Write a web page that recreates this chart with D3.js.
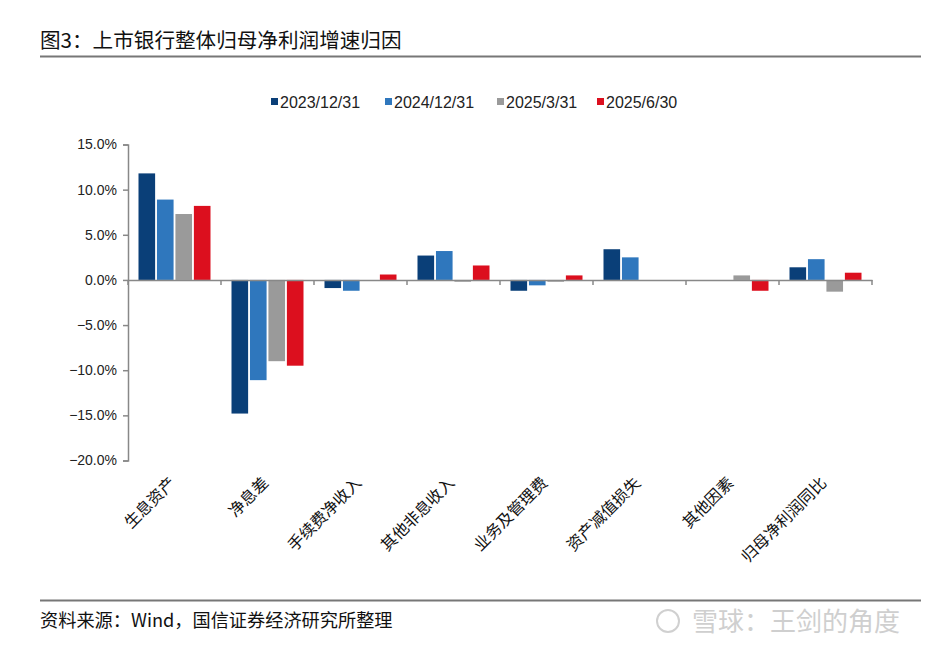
<!DOCTYPE html>
<html>
<head>
<meta charset="utf-8">
<script src="https://cdn.jsdelivr.net/npm/d3@7"></script>
<style>
  body { margin: 0; background: #fff; }
  svg text { font-family: "Noto Sans CJK SC", "DejaVu Sans", sans-serif; }
</style>
</head>
<body>
<div id="chart"></div>
<script>
// chart data
const categories = ["生息资产", "净息差", "手续费净收入", "其他非息收入", "业务及管理费", "资产减值损失", "其他因素", "归母净利润同比"];
const seriesNames = ["2023/12/31", "2024/12/31", "2025/3/31", "2025/6/30"];
const s2023 = [11.8, -14.8, -0.9, 2.7, -1.2, 3.4, 0, 1.4];
const s2024 = [8.9, -11.1, -1.2, 3.2, -0.6, 2.5, 0, 2.3];
const s2025q1 = [7.3, -9.0, 0, -0.2, -0.2, 0, 0.5, -1.3];
const s2025h1 = [8.2, -9.5, 0.6, 1.6, 0.5, 0, -1.2, 0.8];
const yTicks = [15, 10, 5, 0, -5, -10, -15, -20];

const COLORS = ["#0a3f78", "#2f77bd", "#9a9a9a", "#dc0f1e"];
const WIDTH = 926, HEIGHT = 650;
const PLOT = { left: 128, right: 872, top: 144.5, bottom: 460.5 };

const svg = d3.select("#chart").append("svg").attr("width", WIDTH).attr("height", HEIGHT);

// title and rule
svg.append("text").attr("x", 40).attr("y", 48).attr("font-size", 20.6).attr("fill", "#111")
   .text("图3：上市银行整体归母净利润增速归因");
svg.append("line").attr("x1", 40).attr("x2", 921).attr("y1", 56.5).attr("y2", 56.5)
   .attr("stroke", "#777").attr("stroke-width", 2);

// scales
let xScale = d3.scaleBand().domain(categories).range([PLOT.left, PLOT.right]);
let yScale = d3.scaleLinear().domain([-20, 15]).range([PLOT.bottom, PLOT.top]);
let inner = d3.scaleBand().domain(seriesNames).range([0, 72]).paddingInner(0.1);

// bars
const allSeries = [s2023, s2024, s2025q1, s2025h1];
let data = [];
categories.forEach((c, i) => {
  allSeries.forEach((s, j) => data.push({ cat: c, name: seriesNames[j], v: s[i], color: COLORS[j] }));
});
const offset = (xScale.bandwidth() - 72) / 2;
svg.append("g").selectAll("rect")
   .data(data.filter(d => d.v !== 0))
   .enter().append("rect")
   .attr("x", d => xScale(d.cat) + offset + inner(d.name))
   .attr("y", d => yScale(Math.max(0, d.v)))
   .attr("width", inner.bandwidth())
   .attr("height", d => Math.abs(yScale(d.v) - yScale(0)))
   .attr("fill", d => d.color);

// y axis
let yAxis = d3.axisLeft(yScale).tickValues(yTicks).tickSize(5).tickPadding(6)
              .tickFormat(d => d3.format(".1f")(d) + "%");
let yG = svg.append("g").attr("transform", "translate(" + PLOT.left + ",0)").call(yAxis);
yG.select(".domain").attr("stroke", "#888").attr("stroke-width", 1.5);
yG.selectAll(".tick line").attr("stroke", "#888").attr("stroke-width", 1.5);
yG.selectAll(".tick text").attr("font-size", 14).attr("fill", "#222")
  .style("font-family", "'Liberation Sans', Arial, sans-serif");

// x axis along zero line, ticks at category boundaries
let xAxis = d3.axisBottom(xScale).tickSize(0).tickFormat("");
let xG = svg.append("g").attr("transform", "translate(0," + yScale(0) + ")").call(xAxis);
xG.select(".domain").attr("stroke", "#888").attr("stroke-width", 1.5);
svg.append("g").selectAll("line")
   .data(categories.map(c => xScale(c)).concat([PLOT.right]))
   .enter().append("line")
   .attr("x1", d => d).attr("x2", d => d)
   .attr("y1", yScale(0)).attr("y2", yScale(0) + 5)
   .attr("stroke", "#888").attr("stroke-width", 1.5);

// category labels, rotated
svg.append("g").selectAll("text")
   .data(categories).enter().append("text")
   .attr("transform", d => "translate(" + (xScale(d) + xScale.bandwidth() / 2 + 2) + ",484) rotate(-45)")
   .attr("text-anchor", "end")
   .attr("font-size", 16).attr("fill", "#111")
   .text(d => d);

// legend
const legendX = [271, 385, 497, 597];
let legend = svg.append("g").selectAll("g")
   .data(seriesNames).enter().append("g")
   .attr("transform", (d, i) => "translate(" + legendX[i] + ",103)");
legend.append("rect").attr("x", 0).attr("y", -5).attr("width", 7).attr("height", 7)
      .attr("fill", (d, i) => COLORS[i]);
legend.append("text").attr("x", 9).attr("y", 5).attr("font-size", 16).attr("fill", "#222")
      .style("font-family", "'Liberation Sans', Arial, sans-serif")
      .text(d => d);

// footer
svg.append("line").attr("x1", 40).attr("x2", 921).attr("y1", 600.5).attr("y2", 600.5)
   .attr("stroke", "#777").attr("stroke-width", 2);
svg.append("text").attr("x", 40).attr("y", 627).attr("font-size", 18.2).attr("fill", "#111")
   .text("资料来源：Wind，国信证券经济研究所整理");
svg.append("circle").attr("cx", 668).attr("cy", 621).attr("r", 11)
   .attr("fill", "none").attr("stroke", "#d0d0d0").attr("stroke-width", 2);
svg.append("text").attr("x", 900).attr("y", 631).attr("text-anchor", "end")
   .attr("font-size", 26).attr("fill", "#cfcfcf")
   .text("雪球：王剑的角度");
</script>
</body>
</html>
